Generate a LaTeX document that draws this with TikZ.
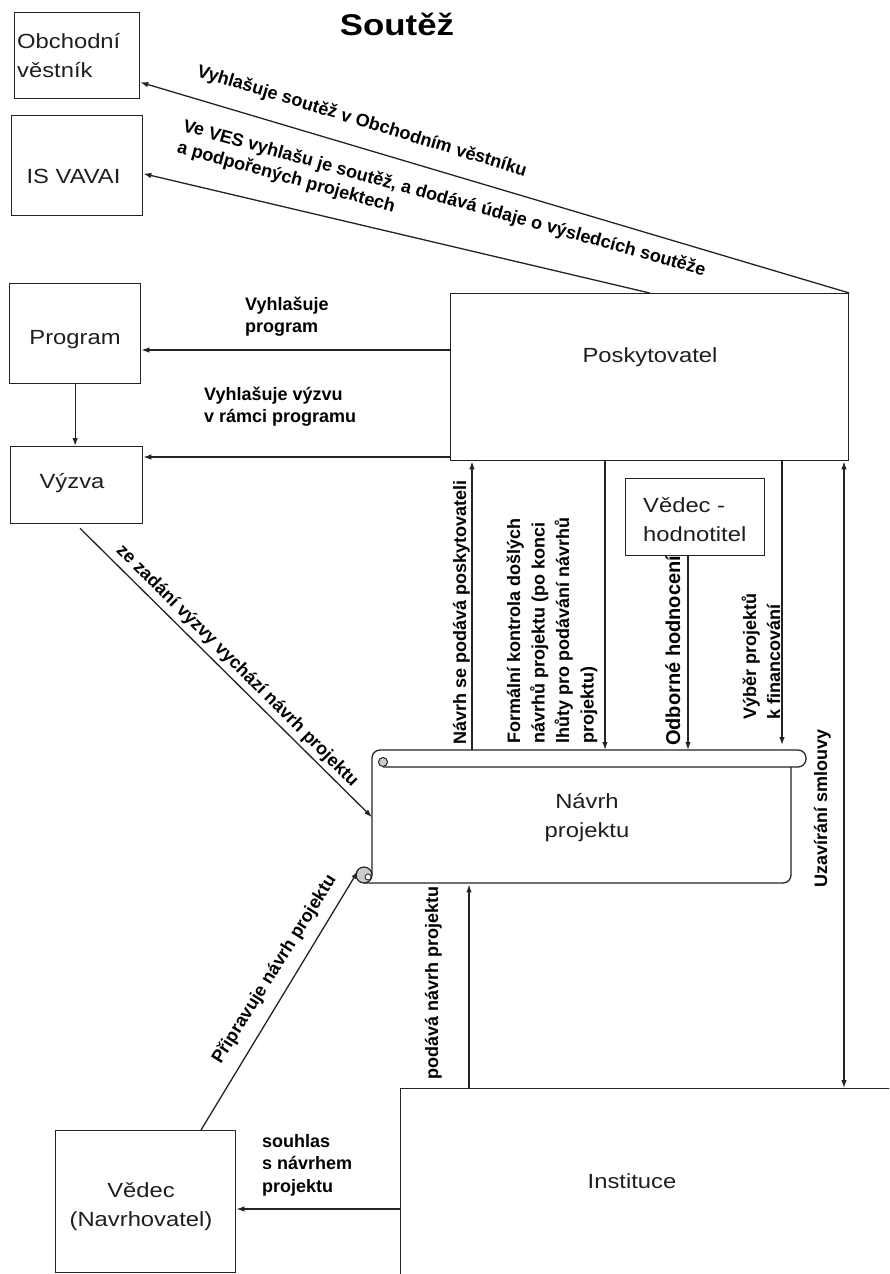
\documentclass[tikz,border=0pt]{standalone}
\usepackage{fontspec}
\setmainfont{Liberation Sans}
\newfontfamily\boxfont[FakeStretch=1.16]{Liberation Sans}
\usetikzlibrary{arrows.meta}
\definecolor{lc}{RGB}{35,35,35}
\definecolor{tc}{RGB}{30,30,30}
\newcommand{\mylines}[1]{\begin{tabular}[t]{@{}l@{}}#1\end{tabular}}
\newcommand{\myclines}[1]{\begin{tabular}[t]{@{}c@{}}#1\end{tabular}}
\tikzset{
  ln/.style={draw=lc, line width=1.3pt},
  arr/.style={ln, -{Latex[length=8pt,width=5.5pt]}},
  dblarr/.style={ln, {Latex[length=8pt,width=5.5pt]}-{Latex[length=8pt,width=5.5pt]}},
  box/.style={draw=lc, line width=1.3pt, rectangle, inner sep=0pt, anchor=north west},
  btxt/.style={font=\boxfont\fontsize{20.5}{29}\selectfont, text=tc, inner sep=0pt},
  lab/.style={font=\bfseries\fontsize{18}{22}\selectfont, inner sep=0pt},
}
\begin{document}
\begin{tikzpicture}[x=1pt,y=-1pt]
\useasboundingbox (0,0) rectangle (889,1274);
\clip (0,0) rectangle (889,1274);

% title
\node[font=\boxfont\bfseries\fontsize{30}{36}\selectfont, anchor=base, inner sep=0pt] (title) at (397,35) {Soutěž};

% boxes
\node[box, minimum width=125pt, minimum height=86pt] (ov) at (14,12) {};
\node[box, minimum width=131pt, minimum height=100pt] (isv) at (11,115) {};
\node[box, minimum width=131pt, minimum height=100pt] (prog) at (9,283) {};
\node[box, minimum width=132pt, minimum height=77pt] (vyz) at (10,446) {};
\node[box, minimum width=398pt, minimum height=167pt] (posk) at (450,293) {};
\node[box, minimum width=139pt, minimum height=77pt] (hod) at (625,478) {};
\node[box, minimum width=600pt, minimum height=300pt] (inst) at (400,1088) {};
\node[box, minimum width=180pt, minimum height=142pt] (ved) at (55,1130) {};

% box texts
\node[btxt, anchor=base west] (ovt) at (17,48) {\mylines{Obchodní\\věstník}};
\node[btxt, anchor=base] (isvt) at (73.5,183) {IS VAVAI};
\node[btxt, anchor=base] (progt) at (75,344) {Program};
\node[btxt, anchor=base] (vyzt) at (72,488) {Výzva};
\node[btxt, anchor=base] (poskt) at (650,362) {Poskytovatel};
\node[btxt, anchor=base west] (hodt) at (643,512) {\mylines{Vědec -\\hodnotitel}};
\node[btxt, anchor=base] (instt) at (632,1188) {Instituce};
\node[btxt, anchor=base] (vedt) at (141,1197) {\myclines{Vědec\\(Navrhovatel)}};

% scroll: Navrh projektu
\node[draw=none, minimum width=434pt, minimum height=134pt, inner sep=0pt, anchor=north west] (navrh) at (372,750) {};
\draw[ln, rounded corners=8pt] (372,875) -- (372,750) -- (806,750) -- (806,767) -- (383,767);
\draw[ln, rounded corners=8pt] (791,767) -- (791,883) -- (364,883);
\filldraw[draw=lc, line width=1pt, fill=gray!40] (383,762) circle (4.5pt);
\node[circle, draw=lc, line width=1.2pt, fill=gray!40, minimum size=16pt, inner sep=0pt] (curl) at (364,875) {};
\filldraw[draw=lc, line width=0.8pt, fill=white] (368,877) circle (3pt);
\coordinate (curltip) at (358,871);
\node[btxt, anchor=base] (navrht) at (587,808) {\myclines{Návrh\\projektu}};

% connectors
\draw[arr] (posk.north east) -- ([yshift=17pt]ov.south east);
\draw[arr] (posk.north) -- ([yshift=-8pt]isv.east);
\draw[arr] (posk.west |- 0,350) -- (prog.east |- 0,350);
\draw[arr] (posk.west |- 0,457) -- (vyz.east |- 0,457);
\draw[arr] (prog.south) -- (prog.south |- vyz.north);
\draw[arr] ([shift={(70pt,-4pt)}]vyz.south west) -- (navrh.west);
\draw[arr] (navrh.north -| 472,0) -- (posk.south -| 472,0);
\draw[arr] (posk.south -| 605,0) -- (navrh.north -| 605,0);
\draw[arr] (hod.south -| 688,0) -- (navrh.north -| 688,0);
\draw[arr] (posk.south -| 782,0) -- ([yshift=5pt]navrh.north -| 782,0);
\draw[dblarr] (posk.south -| 844,0) -- (inst.north -| 844,0);
\draw[arr] (inst.north -| 469,0) -- (navrh.south -| 469,0);
\draw[arr] (ved.north -| 201,0) -- (curltip);
\draw[arr] (inst.west |- 0,1209) -- (ved.east |- 0,1209);

% labels
\node[lab, rotate=-17, anchor=base west] (l1) at (196,76) {Vyhlašuje soutěž v Obchodním věstníku};
\node[lab, rotate=-15.5, anchor=base west] (l2) at (182,131) {\mylines{Ve VES vyhlašu je soutěž, a dodává údaje o výsledcích soutěže\\a podpořených projektech}};
\node[lab, anchor=base west] (l3) at (245,310) {\mylines{Vyhlašuje\\program}};
\node[lab, anchor=base west] (l4) at (204,400) {\mylines{Vyhlašuje výzvu\\v rámci programu}};
\node[lab, rotate=-45, anchor=south] (l5) at (231,672) {ze zadání výzvy vychází návrh projektu};
\node[lab, rotate=90, anchor=base west] (l6) at (466,745) {Návrh se podává poskytovateli};
\node[lab, rotate=90, anchor=base west, font=\bfseries\fontsize{18}{24.5}\selectfont] (l7) at (520,744) {\mylines{Formální kontrola došlých\\návrhů projektu (po konci\\lhůty pro podávání návrhů\\projektu)}};
\node[lab, rotate=90, anchor=base west, font=\bfseries\fontsize{20}{24}\selectfont] (l8) at (680,746) {Odborné hodnocení};
\node[lab, rotate=90, anchor=base west, font=\bfseries\fontsize{18}{24}\selectfont] (l9) at (756,720) {\mylines{Výběr projektů\\k financování}};
\node[lab, rotate=90, anchor=base west] (l10) at (827,888) {Uzavírání smlouvy};
\node[lab, rotate=90, anchor=base west] (l11) at (438,1080) {podává návrh projektu};
\node[lab, rotate=58, anchor=south] (l12) at (282,974) {Připravuje návrh projektu};
\node[lab, anchor=base west, font=\bfseries\fontsize{18}{22.5}\selectfont] (l13) at (262,1147) {\mylines{souhlas\\s návrhem\\projektu}};
\end{tikzpicture}
\end{document}
